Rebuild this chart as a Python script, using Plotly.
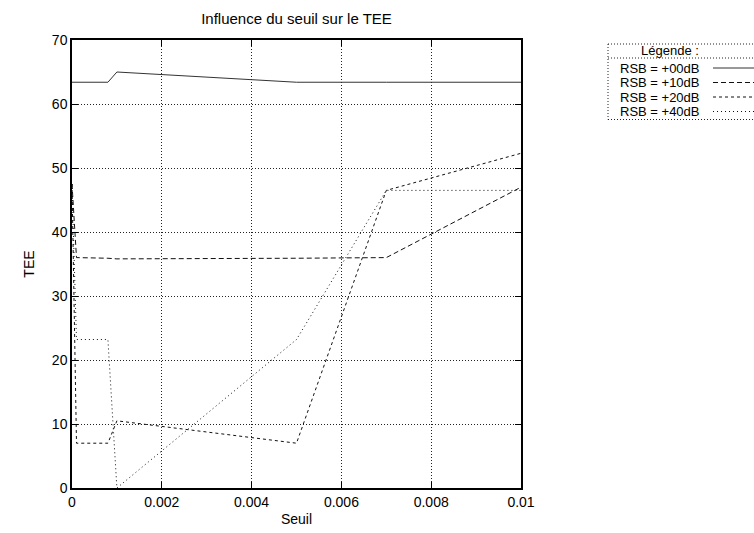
import plotly.graph_objects as go

# ---- data ----
seuil = [0.0, 0.0001, 0.0008, 0.001, 0.005, 0.007, 0.01]
rsb_00 = [63.4, 63.4, 63.4, 65.0, 63.4, 63.4, 63.4]
rsb_10 = [47.5, 36.0, 35.9, 35.8, 35.9, 36.0, 47.0]
rsb_20 = [47.5, 7.0, 7.0, 10.5, 7.0, 46.5, 52.3]
rsb_40 = [47.5, 23.2, 23.2, 0.0, 23.2, 46.5, 46.5]
series_names = ["RSB = +00dB", "RSB = +10dB", "RSB = +20dB", "RSB = +40dB"]
x_ticks = [0, 0.002, 0.004, 0.006, 0.008, 0.01]
x_tick_labels = ["0", "0.002", "0.004", "0.006", "0.008", "0.01"]
y_ticks = [0, 10, 20, 30, 40, 50, 60, 70]

W, H = 754, 533
# plot area in picture pixels
L, R, T, B = 72, 521, 40, 488

dashes = ["solid", "5px,3px", "3px,3px", "1px,3px"]
colors = ["#333333", "#111111", "#111111", "#111111"]
FONT = "Liberation Sans, Arial, Helvetica, sans-serif"
FS = 14
FS_TITLE = 15
FS_KEY = 13

fig = go.Figure()
for name, ys, d, c in zip(series_names, [rsb_00, rsb_10, rsb_20, rsb_40], dashes, colors):
    fig.add_trace(go.Scatter(x=seuil, y=ys, mode="lines", name=name,
                             line=dict(color=c, width=1, dash=d), showlegend=False))

def px(xp):
    return (xp - L) / (R - L)

def py(yp):
    return (B - yp) / (B - T)

# custom gnuplot-like key (box, title, separator, entries with samples on the right)
shapes = []
annotations = []
box_l, box_r, box_t, sep = 608, 770, 44, 58
entry_y = [68, 82.5, 97, 111.5]
box_b = entry_y[-1] + 8
for (x0, y0, x1, y1) in [(box_l, box_t, box_r, box_t), (box_l, box_b, box_r, box_b),
                         (box_l, box_t, box_l, box_b), (box_l, sep, box_r, sep)]:
    shapes.append(dict(type="line", xref="paper", yref="paper",
                       x0=px(x0), y0=py(y0), x1=px(x1), y1=py(y1),
                       line=dict(color="#222", width=1, dash="1px,2px")))
annotations.append(dict(text="Légende :", xref="paper", yref="paper",
                        x=px(670), y=py(51), xanchor="center", yanchor="middle",
                        showarrow=False, font=dict(size=FS_KEY, color="black", family=FONT)))
for name, d, c, ey in zip(series_names, dashes, colors, entry_y):
    annotations.append(dict(text=name, xref="paper", yref="paper",
                            x=px(702), y=py(ey), xanchor="right", yanchor="middle",
                            showarrow=False, font=dict(size=FS_KEY, color="black", family=FONT)))
    shapes.append(dict(type="line", xref="paper", yref="paper",
                       x0=px(713), y0=py(ey), x1=px(760), y1=py(ey),
                       line=dict(color=c, width=1, dash=d)))

axis_common = dict(showline=True, linecolor="black", linewidth=1.5, mirror="ticks",
                   ticks="inside", ticklen=6, tickcolor="black", tickwidth=1,
                   showgrid=True, gridcolor="#222", gridwidth=1, griddash="1px,2px",
                   zeroline=False, automargin=False,
                   tickfont=dict(size=FS, color="black", family=FONT))

fig.update_layout(
    width=W, height=H,
    margin=dict(l=L, r=W - R, t=T, b=H - B, pad=0, autoexpand=False),
    paper_bgcolor="white", plot_bgcolor="white",
    font=dict(family=FONT, size=FS, color="black"),
    title=dict(text="Influence du seuil sur le TEE", x=(L + R) / 2 / W, xanchor="center",
               y=1 - 19 / H, yanchor="middle",
               font=dict(size=FS_TITLE, color="black", family=FONT)),
    xaxis=dict(range=[0, 0.01], tickvals=x_ticks, ticktext=x_tick_labels,
               title=dict(text="Seuil", standoff=6, font=dict(size=FS, family=FONT)),
               **axis_common),
    yaxis=dict(range=[0, 70], tickvals=y_ticks,
               title=dict(text="TEE", standoff=14, font=dict(size=FS, family=FONT)),
               **axis_common),
    shapes=shapes, annotations=annotations,
)
fig.write_html("out.html", config={"displayModeBar": False},
               post_script="document.body.style.margin='0';document.body.style.overflow='hidden';")
